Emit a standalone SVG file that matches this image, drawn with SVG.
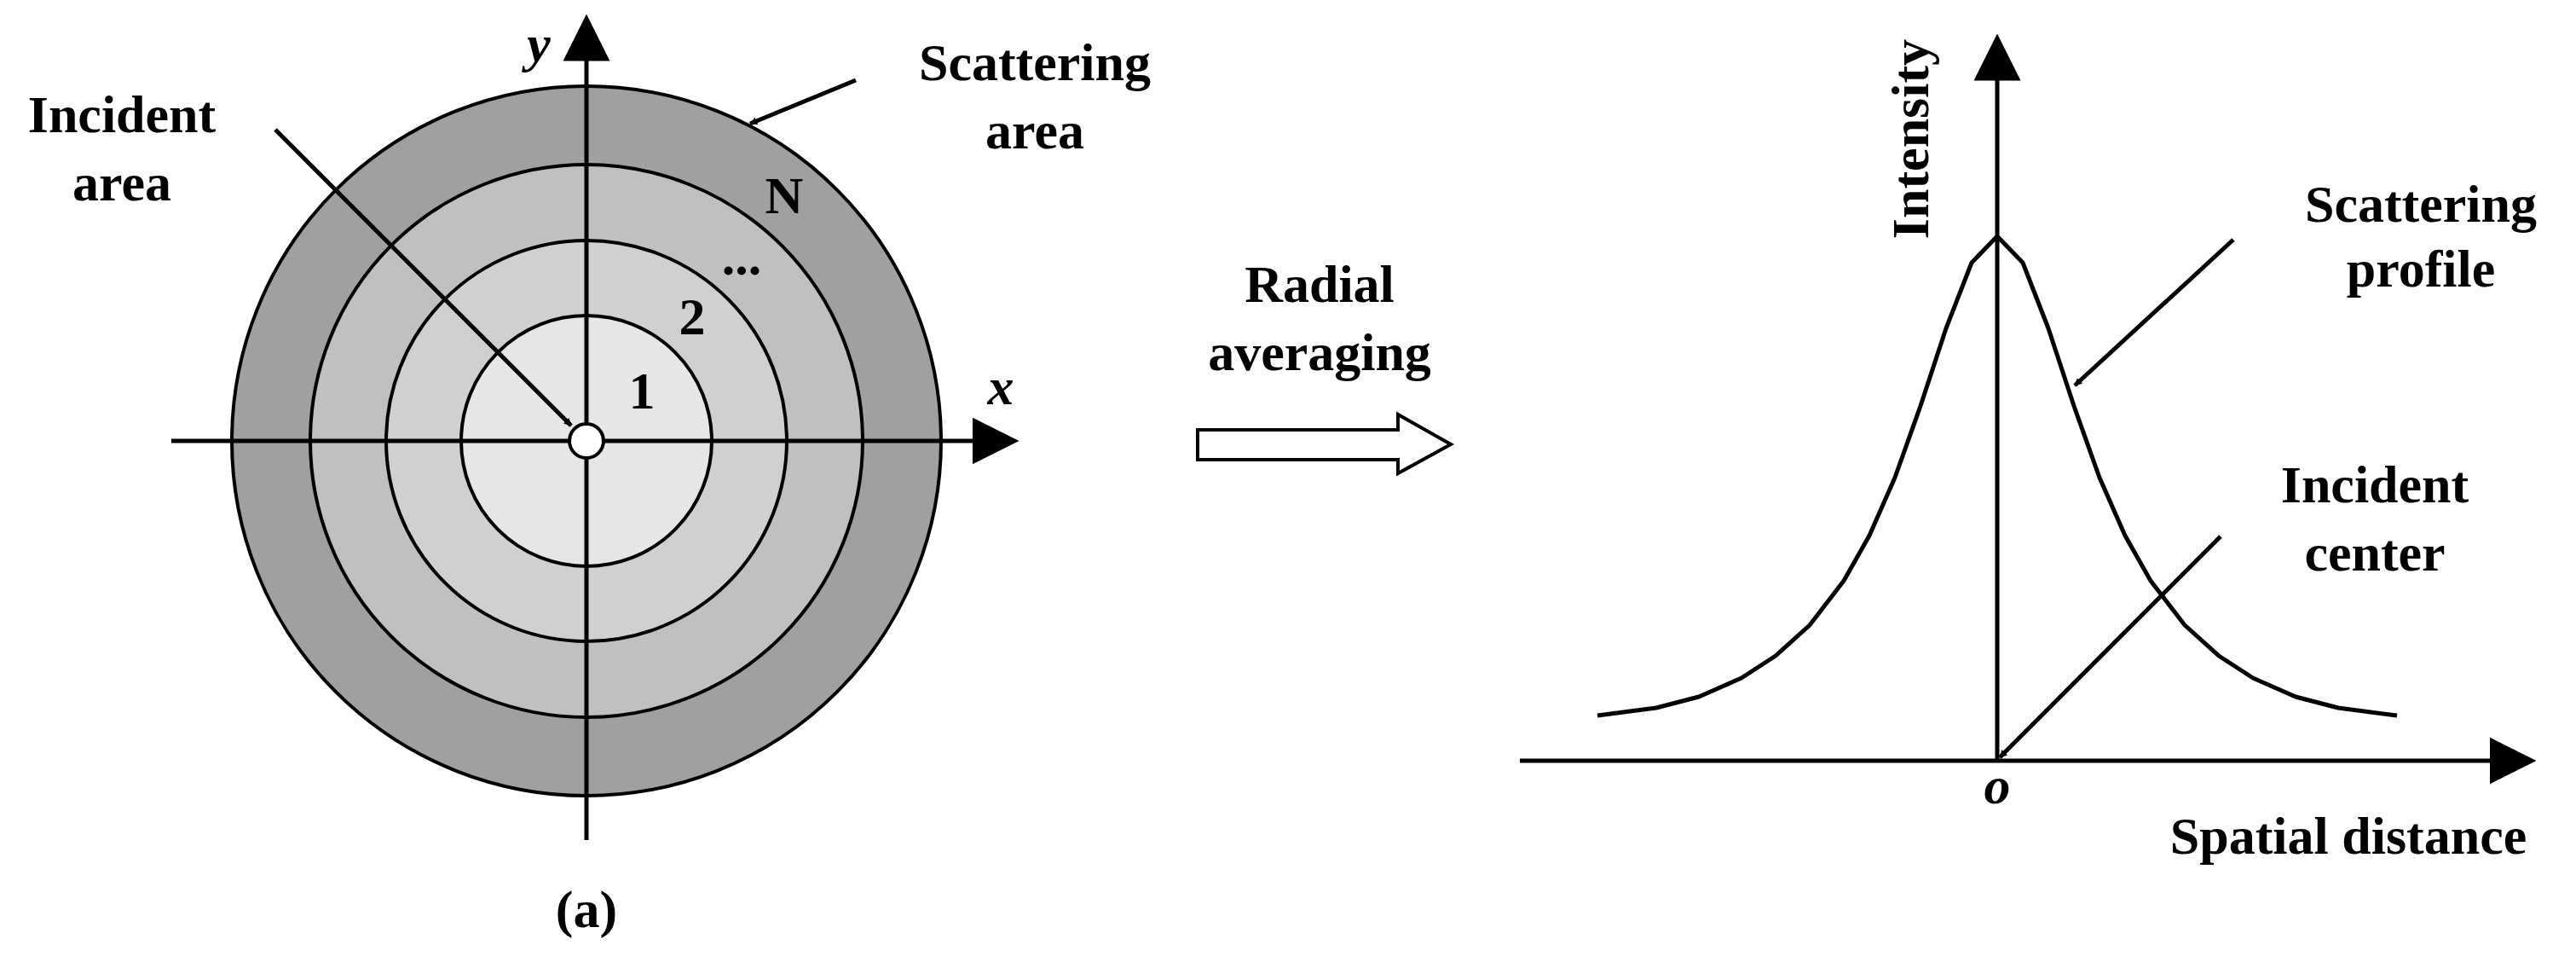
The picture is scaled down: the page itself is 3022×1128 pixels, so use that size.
<svg xmlns="http://www.w3.org/2000/svg" width="3022" height="1128" viewBox="0 0 3022 1128">
<style>
text{font-family:"Liberation Serif",serif;font-weight:bold;font-size:62px;fill:#000;text-anchor:middle}
.it{font-style:italic}
.ln{stroke:#000;stroke-width:5;fill:none}
.ring{stroke:#000;stroke-width:4}
</style>
<defs>
<marker id="ah" viewBox="0 0 10 10" refX="9" refY="5" markerWidth="9" markerHeight="9" markerUnits="userSpaceOnUse" orient="auto">
<path d="M0,0 L10,5 L0,10 z" fill="#000"/>
</marker>
<marker id="ax" viewBox="0 0 10 10" refX="9" refY="5" markerWidth="11" markerHeight="11" orient="auto">
<path d="M0,0 L10,5 L0,10 z" fill="#000"/>
</marker>
</defs>
<rect width="3022" height="1128" fill="#fff"/>
<g id="target">
<circle class="ring" cx="688" cy="517" r="416" fill="#a0a0a0"/>
<circle class="ring" cx="688" cy="517" r="324" fill="#c0c0c0"/>
<circle class="ring" cx="688" cy="517" r="235" fill="#d0d0d0"/>
<circle class="ring" cx="688" cy="517" r="147" fill="#e6e6e6"/>
<text x="920" y="250" font-size="44">N</text>
<text x="870" y="322" font-size="44">...</text>
<text x="812" y="392" font-size="46">2</text>
<text x="753" y="479" font-size="46">1</text>
</g>
<g id="axes-a">
<line class="ln" x1="201" y1="517" x2="1190" y2="517" marker-end="url(#ax)"/>
<line class="ln" x1="688" y1="985" x2="688" y2="22" marker-end="url(#ax)"/>
<text class="it" x="1174" y="474">x</text>
<text class="it" x="632" y="72">y</text>
</g>
<g id="center-dot"><circle cx="688" cy="517" r="20" fill="#fff" stroke="#000" stroke-width="4"/></g>
<g id="label-incident-area"><text x="143" y="155">Incident</text><text x="143" y="235">area</text></g>
<g id="label-scattering-area"><text x="1214" y="94">Scattering</text><text x="1214" y="174">area</text></g>
<text x="688" y="1087">(a)</text>
<g id="radial-averaging">
<text x="1548" y="354">Radial</text><text x="1548" y="434">averaging</text>
<path d="M1405,504 L1640,504 L1640,486 L1702,521 L1640,555 L1640,539 L1405,539 Z" fill="#fff" stroke="#000" stroke-width="4"/>
</g>
<g id="axes-b">
<line class="ln" x1="1783" y1="892" x2="2970" y2="892" marker-end="url(#ax)"/>
<line class="ln" x1="2343" y1="892" x2="2343" y2="45" marker-end="url(#ax)"/>
<text x="2262" y="163" transform="rotate(-90 2262 163)">Intensity</text>
<text class="it" x="2343" y="942" font-size="44" font-weight="normal">o</text>
<text x="2755" y="1001">Spatial distance</text>
</g>
<g id="profile">
<polyline class="ln" stroke-linejoin="round" points="1874,839 1943,830 1993,817 2043,795 2083,769 2123,733 2163,681 2193,628 2223,560 2253,476 2283,385 2313,308 2343,277 2373,308 2403,385 2433,476 2463,560 2493,628 2523,681 2563,733 2603,769 2643,795 2693,817 2743,830 2812,839"/>
</g>
<g id="label-scattering-profile"><text x="2840" y="260">Scattering</text><text x="2840" y="336">profile</text></g>
<g id="label-incident-center"><text x="2786" y="589">Incident</text><text x="2786" y="669">center</text></g>
<g id="connectors">
<line class="ln" x1="323" y1="152" x2="670" y2="499" marker-end="url(#ah)" stroke-width="4"/>
<line class="ln" x1="1004" y1="94" x2="880" y2="145" marker-end="url(#ah)" stroke-width="4"/>
<line class="ln" x1="2620" y1="281" x2="2434" y2="452" marker-end="url(#ah)" stroke-width="4"/>
<line class="ln" x1="2605" y1="629" x2="2346" y2="888" marker-end="url(#ah)" stroke-width="4"/>
</g>
</svg>
